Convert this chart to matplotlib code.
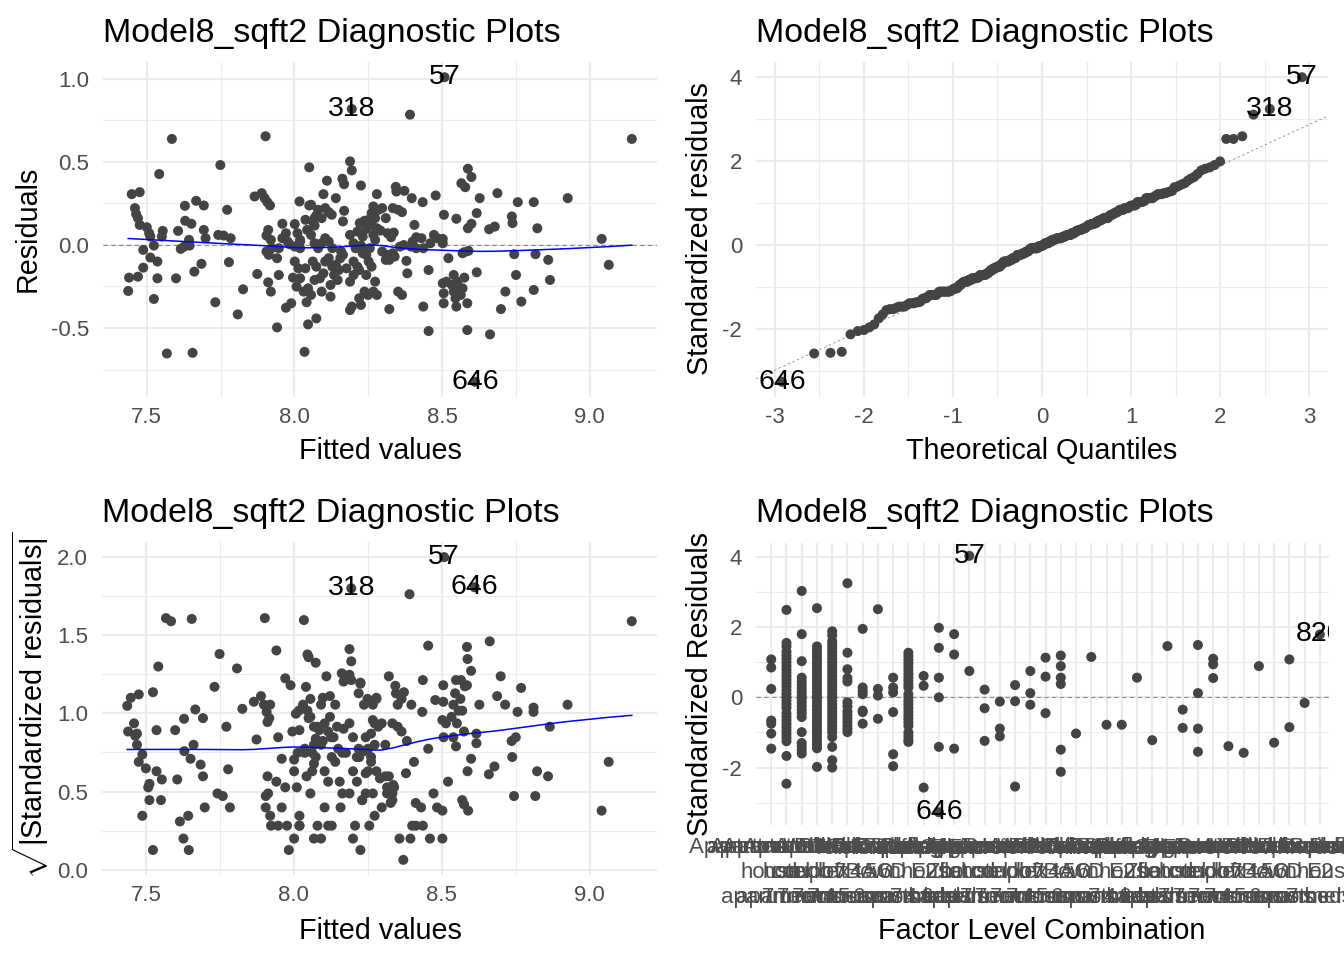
import numpy as np
import matplotlib
matplotlib.use("Agg")
import matplotlib.pyplot as plt
from matplotlib.ticker import MultipleLocator, FormatStrFormatter, FixedLocator, NullLocator
from statistics import NormalDist

plt.rcParams["font.family"] = ["Liberation Sans", "DejaVu Sans"]
plt.rcParams["mathtext.fontset"] = "custom"
plt.rcParams["mathtext.rm"] = "Liberation Sans"
plt.rcParams["axes.unicode_minus"] = False


# ─────────────────────────────────────────────
# Data
# ─────────────────────────────────────────────

TITLE = "Model8_sqft2 Diagnostic Plots"
SIGMA = 0.252   # residual standard error

FITTED = np.array([
    8.508, 8.194, 8.391, 7.585, 7.902, 9.142, 8.188, 7.749, 8.050, 8.194,
    8.587, 7.542, 8.599, 8.162, 8.168, 8.110, 8.565, 8.578, 8.225, 8.343,
    8.345, 8.372, 8.687, 8.279, 8.098, 8.478, 7.449, 7.476, 8.627, 8.925,
    8.140, 8.397, 8.434, 8.756, 8.810, 7.865, 7.889, 7.899, 7.908, 7.917,
    7.667, 7.693, 7.629, 7.460, 7.464, 7.470, 8.017, 8.050, 7.772, 8.080,
    8.104, 8.116, 8.126, 8.168, 8.164, 8.267, 8.297, 8.333, 8.351, 8.364,
    8.506, 8.548, 8.617, 8.599, 8.587, 8.659, 8.678, 8.736, 8.738, 8.822,
    9.040, 9.064, 7.630, 7.651, 7.476, 7.500, 7.508, 7.512, 7.554, 7.551,
    7.606, 7.693, 7.699, 7.643, 7.645, 7.742, 7.760, 7.784, 7.911, 7.905,
    7.920, 7.959, 7.971, 7.977, 8.001, 8.010, 8.019, 8.043, 8.056, 8.062,
    8.068, 8.074, 8.037, 8.221, 8.237, 8.251, 8.273, 8.261, 8.243, 8.279,
    8.291, 8.267, 8.273, 8.315, 8.327, 8.336, 8.406, 8.412, 8.430, 8.400,
    8.472, 8.484, 8.502, 8.460, 7.488, 7.512, 7.536, 7.524, 7.615, 7.627,
    7.440, 7.470, 7.488, 7.536, 7.599, 7.661, 7.685, 7.778, 7.437, 7.524,
    7.732, 7.808, 7.826, 7.874, 7.911, 7.920, 7.941, 7.947, 7.941, 7.905,
    7.913, 7.971, 7.989, 7.995, 8.007, 8.019, 8.031, 8.037, 8.046, 8.041,
    8.046, 8.074, 8.034, 7.568, 7.655, 8.068, 8.086, 8.098, 8.104, 8.116,
    8.122, 8.122, 8.134, 8.140, 8.146, 8.150, 8.155, 8.158, 8.164, 8.188,
    8.194, 8.219, 8.225, 8.237, 8.213, 8.219, 8.243, 8.251, 8.231, 8.225,
    8.243, 8.255, 8.249, 8.267, 8.273, 8.279, 8.315, 8.321, 8.333, 8.339,
    8.379, 8.382, 8.351, 8.364, 8.321, 8.436, 8.454, 8.454, 8.436, 8.502,
    8.505, 8.505, 8.514, 8.521, 8.533, 8.539, 8.545, 8.551, 8.557, 8.548,
    8.563, 8.569, 8.575, 8.575, 8.589, 8.585, 8.585, 8.617, 8.662, 8.699,
    8.714, 8.744, 8.750, 8.768, 8.810, 8.816, 8.859, 8.865, 8.611,
    7.983, 8.001, 8.019, 8.068, 8.080, 8.092, 8.104, 8.116, 8.128, 8.188,
    8.200, 8.207, 8.213, 8.231, 8.370, 8.297, 8.309, 8.357, 8.394, 8.412,
    8.062, 8.074, 8.128, 8.176, 8.200, 8.200, 8.261, 8.188, 8.092, 8.056,
    8.019, 7.959, 8.056, 8.068, 8.092, 8.261, 8.285, 8.309, 8.333, 8.502,
    8.569, 7.947, 7.923, 8.001, 8.013, 8.539,
])

RESID = np.array([
    1.008, 0.817, 0.783, 0.637, 0.653, 0.637, 0.502, 0.480, 0.466, 0.448,
    0.458, 0.426, 0.408, 0.398, 0.365, 0.386, 0.371, 0.347, 0.357, 0.349,
    0.321, 0.325, 0.311, 0.305, 0.305, 0.297, 0.305, 0.317, 0.281, 0.281,
    0.281, 0.281, 0.257, 0.257, 0.257, 0.291, 0.311, 0.281, 0.257, 0.237,
    0.265, 0.237, 0.235, 0.221, 0.185, 0.161, 0.261, 0.237, 0.211, 0.211,
    0.221, 0.197, 0.181, 0.205, 0.141, 0.231, 0.221, 0.221, 0.211, 0.197,
    0.181, 0.157, 0.191, 0.127, 0.100, 0.094, 0.110, 0.171, 0.131, 0.100,
    0.036, -0.120, 0.145, 0.127, 0.120, 0.106, 0.070, 0.050, 0.084, 0.050,
    0.084, 0.090, 0.040, 0.030, -0.004, 0.060, 0.056, 0.040, 0.090, 0.056,
    0.030, 0.127, 0.070, 0.020, 0.125, 0.070, 0.030, 0.090, 0.060, 0.141,
    0.116, 0.177, 0.151, 0.131, 0.145, 0.151, 0.161, 0.120, 0.096, 0.100,
    0.086, 0.060, 0.030, 0.070, 0.046, 0.074, 0.120, 0.046, 0.040, 0.020,
    0.060, 0.040, 0.036, 0.010, -0.030, -0.076, -0.100, -0.004, -0.024, -0.010,
    -0.197, -0.191, -0.137, -0.201, -0.201, -0.161, -0.114, -0.104, -0.277, -0.325,
    -0.345, -0.418, -0.267, -0.175, -0.225, -0.281, -0.496, -0.181, -0.080, -0.040,
    -0.060, -0.378, -0.351, -0.197, -0.251, -0.201, -0.281, -0.141, -0.261, -0.345,
    -0.478, -0.442, -0.643, -0.653, -0.649, -0.211, -0.201, -0.171, -0.100, -0.080,
    -0.241, -0.311, -0.181, -0.120, -0.211, -0.151, -0.080, -0.040, -0.060, -0.392,
    -0.371, -0.321, -0.361, -0.281, -0.131, -0.151, -0.181, -0.100, -0.050, -0.004,
    -0.060, -0.020, -0.301, -0.281, -0.221, -0.301, -0.060, -0.090, -0.050, -0.070,
    -0.096, -0.171, -0.281, -0.301, -0.386, -0.371, -0.151, -0.518, -0.020, -0.231,
    -0.291, -0.351, -0.221, -0.080, -0.241, -0.281, -0.321, -0.221, -0.261, -0.371,
    -0.301, -0.261, -0.197, -0.044, -0.036, -0.351, -0.512, -0.165, -0.538, -0.386,
    -0.281, -0.056, -0.181, -0.341, -0.271, -0.056, -0.090, -0.211, -0.823,
    0.004, -0.010, -0.020, 0.010, -0.020, 0.010, 0.040, 0.020, -0.020, 0.060,
    0.010, -0.020, 0.080, 0.050, -0.001, -0.040, -0.090, -0.010, -0.010, -0.020,
    -0.100, -0.131, -0.131, -0.141, -0.100, -0.181, -0.131, -0.221, -0.281, -0.301,
    0.020, 0.040, 0.241, 0.161, 0.161, 0.191, 0.211, 0.161, -0.060, 0.010,
    -0.050, -0.020, -0.020, -0.100, -0.141, -0.181,
])

# labelled observations (index into FITTED / RESID)
OUTLIER_IDX = [0, 1, 238]
OUTLIER_NAMES = ["57", "318", "646"]

# standardized residuals grouped by factor level combination
LEVEL_STD = [
    [1.08, 0.85, 0.24, -0.66, -0.75, -1.03, -1.46],
    [2.49, 1.55, 1.45, 1.3, 1.2, 1.1, 1.0, 0.9, 0.8, 0.7, 0.6, 0.5, 0.4, 0.3, 0.2,
     0.1, 0.0, -0.1, -0.2, -0.3, -0.45, -0.55, -0.65, -0.75, -0.85, -0.95, -1.05,
     -1.15, -1.25, -1.67, -2.46],
    [3.03, 1.8, 1.03, 0.56, 0.45, 0.35, 0.25, 0.15, 0.05, -0.05, -0.15, -0.25,
     -0.35, -0.45, -0.56, -0.99, -1.3, -1.4, -1.5, -1.6],
    [2.54, 1.45, 1.35, 1.25, 1.15, 1.05, 0.95, 0.85, 0.75, 0.65, 0.55, 0.45, 0.35,
     0.25, 0.15, 0.05, -0.05, -0.15, -0.25, -0.35, -0.45, -0.55, -0.65, -0.75,
     -0.85, -0.95, -1.05, -1.15, -1.25, -1.35, -1.45, -1.98],
    [1.88, 1.76, 1.6, 1.5, 1.4, 1.3, 1.2, 1.1, 1.0, 0.9, 0.8, 0.7, 0.6, 0.5, 0.4,
     0.3, 0.2, 0.1, 0.0, -0.1, -0.2, -0.3, -0.4, -0.5, -0.6, -0.7, -0.8, -0.9,
     -1.0, -1.13, -1.41, -1.79, -2.0],
    [3.25, 1.27, 0.8, 0.55, 0.45, -0.14, -0.25, -0.4, -0.5, -0.6, -0.7, -0.8,
     -0.9, -0.99],
    [1.95, 0.28, 0.18, 0.09, -0.38, -0.42, -0.75],
    [2.51, 0.24, 0.05, -0.61],
    [0.56, 0.28, 0.14, -0.42, -1.62, -1.96],
    [1.27, 1.17, 1.07, 0.97, 0.87, 0.77, 0.67, 0.57, 0.47, 0.37, 0.28, 0.09,
     -0.01, -0.11, -0.21, -0.31, -0.41, -0.51, -0.61, -0.71, -0.81, -1.0, -1.1,
     -1.2, -1.27],
    [0.61, 0.33, -2.57],
    [1.98, 1.41, 0.56, 0.0, -1.41, -3.27],
    [1.8, 1.22, -1.46],
    [4.03, 0.75],
    [0.22, -0.31, -1.24],
    [-0.12, -0.89, -1.11],
    [0.35, -0.11, -2.54],
    [0.75, 0.12, -0.21],
    [1.13, 0.59, -0.45],
    [1.19, 0.89, 0.56, 0.38, -1.49, -2.12],
    [-1.03],
    [1.15],
    [-0.78],
    [-0.78],
    [0.56],
    [-1.22],
    [1.46],
    [-0.35, -0.87],
    [1.49, 0.12, -0.89, -1.55],
    [1.1, 0.94, 0.55],
    [-1.39],
    [-1.58],
    [0.89],
    [-1.29],
    [1.08, -0.85],
    [-0.16],
    [1.79],
]

LEVEL_OUTLIERS = [13, 11, 36]
LEVEL_OUTLIER_NAMES = ["57", "646", "820"]

ROW_A = ["Apartment Block", "apartment block", "Apartment Walkup", "Apartment Elevator",
         "Apartment Duplex", "Apartment Loft", "Walkup Building", "Elevator Building",
         "Townhouse Row", "Townhouse End", "Duplex Upper", "Duplex Lower",
         "Loft Conversion", "Cottage Detached"]
ROW_B = ["house", "hotel", "condo", "duplex", "loft", "7B", "4A", "5C", "6D",
         "townhouse", "E2", "Zb", "flat"]
ROW_C = ["apartment", "apartment", "7 rooms", "7 rooms", "7 rooms", "7 rooms",
         "4 rooms", "5 rooms", "6 rooms", "apartment", "7 beds", "4 beds", "6 beds"]
FACTOR_LABELS = [f"{ROW_A[i % len(ROW_A)]}\n{ROW_B[i % len(ROW_B)]}\n{ROW_C[i % len(ROW_C)]}"
                 for i in range(len(LEVEL_STD))]


# ─────────────────────────────────────────────
# Helpers
# ─────────────────────────────────────────────

W, H = 1344, 960
POINT_COL = "#444444"
GRID_COL = "#EBEBEB"
TICK_COL = "#4D4D4D"


def lowess(x, y, frac=2 / 3, iters=3):
    order = np.argsort(x, kind="stable")
    xs, ys = x[order], y[order]
    n = len(xs)
    r = int(np.ceil(frac * n))
    dist = np.abs(xs[:, None] - xs[None, :])
    h = np.sort(dist, axis=1)[:, r - 1]
    w = np.clip(dist / h[:, None], 0, 1)
    w = (1 - w ** 3) ** 3
    delta = np.ones(n)
    fit = np.zeros(n)
    for _ in range(iters + 1):
        for i in range(n):
            wi = w[i] * delta
            sw, sx, sy = wi.sum(), (wi * xs).sum(), (wi * ys).sum()
            sxx, sxy = (wi * xs * xs).sum(), (wi * xs * ys).sum()
            den = sw * sxx - sx * sx
            if den > 1e-12:
                b = (sw * sxy - sx * sy) / den
                fit[i] = (sy - b * sx) / sw + b * xs[i]
            else:
                fit[i] = sy / sw
        res = ys - fit
        s = np.median(np.abs(res))
        delta = np.clip(res / (6 * s), -1, 1)
        delta = (1 - delta ** 2) ** 2
    return xs, fit


def panel(fig, left, top, right, bottom):
    return fig.add_axes([left / W, 1 - bottom / H, (right - left) / W, (bottom - top) / H])


def style(ax, xpad=7.5, ypad=10):
    for s in ax.spines.values():
        s.set_visible(False)
    ax.set_axisbelow(True)
    ax.grid(which="major", color=GRID_COL, lw=1.45)
    ax.grid(which="minor", color=GRID_COL, lw=0.75)
    ax.tick_params(which="both", length=0, labelsize=16, labelcolor=TICK_COL)
    ax.tick_params(axis="x", pad=xpad)
    ax.tick_params(axis="y", pad=ypad)


def ftext(fig, x, y, s, **kw):
    fig.text(x / W, 1 - y / H, s, **kw)


# ─────────────────────────────────────────────
# Derived series
# ─────────────────────────────────────────────

std_resid = RESID / SIGMA
sqrt_std = np.sqrt(np.abs(std_resid))

n = len(std_resid)
order = np.argsort(std_resid, kind="stable")
theo = np.array([NormalDist().inv_cdf((i + 0.5) / n) for i in range(n)])
sample = std_resid[order]
q1y, q3y = np.quantile(std_resid, [0.25, 0.75])
q1x, q3x = NormalDist().inv_cdf(0.25), NormalDist().inv_cdf(0.75)
qq_slope = (q3y - q1y) / (q3x - q1x)
qq_int = q1y - qq_slope * q1x
rank = np.empty(n, dtype=int)
rank[order] = np.arange(n)

# ─────────────────────────────────────────────
# Figure
# ─────────────────────────────────────────────

fig = plt.figure(figsize=(W / 100, H / 100), dpi=100)

label_kw = dict(fontsize=20.5, ha="center", va="center", color="black", zorder=5)

# 1. Residuals vs Fitted
ax1 = panel(fig, 103, 62, 657, 397)
style(ax1)
ax1.scatter(FITTED, RESID, s=52, color=POINT_COL, edgecolors="none", zorder=3)
sx, sy = lowess(FITTED, RESID)
ax1.plot(sx, sy, color="#0000FF", lw=1.1, zorder=4)
ax1.axhline(0, color="#8C8C8C", lw=0.8, ls=(0, (4, 3)), zorder=2)
for i, name in zip(OUTLIER_IDX, OUTLIER_NAMES):
    ax1.text(FITTED[i], RESID[i], name, clip_on=True, **label_kw)
ax1.xaxis.set_major_locator(MultipleLocator(0.5))
ax1.xaxis.set_minor_locator(MultipleLocator(0.25))
ax1.yaxis.set_major_locator(MultipleLocator(0.5))
ax1.yaxis.set_minor_locator(MultipleLocator(0.25))
ax1.xaxis.set_major_formatter(FormatStrFormatter("%.1f"))
ax1.yaxis.set_major_formatter(FormatStrFormatter("%.1f"))

# 2. Normal Q-Q
ax2 = panel(fig, 756, 62, 1328, 397)
style(ax2)
ax2.scatter(theo, sample, s=52, color=POINT_COL, edgecolors="none", zorder=3)
ax2.axline((0, qq_int), slope=qq_slope, color="#8C8C8C", lw=0.6, ls=(0, (3, 3)), zorder=2)
for i, name in zip(OUTLIER_IDX, OUTLIER_NAMES):
    ax2.text(theo[rank[i]], std_resid[i], name, clip_on=True, **label_kw)
ax2.xaxis.set_major_locator(MultipleLocator(1))
ax2.xaxis.set_minor_locator(MultipleLocator(0.5))
ax2.yaxis.set_major_locator(MultipleLocator(2))
ax2.yaxis.set_minor_locator(MultipleLocator(1))

# 3. Scale-Location
ax3 = panel(fig, 102, 542, 657, 875)
style(ax3)
ax3.scatter(FITTED, sqrt_std, s=52, color=POINT_COL, edgecolors="none", zorder=3)
sx, sy = lowess(FITTED, sqrt_std)
ax3.plot(sx, sy, color="#0000FF", lw=1.1, zorder=4)
for i, name in zip(OUTLIER_IDX, OUTLIER_NAMES):
    ax3.text(FITTED[i], sqrt_std[i], name, clip_on=True, **label_kw)
ax3.xaxis.set_major_locator(MultipleLocator(0.5))
ax3.xaxis.set_minor_locator(MultipleLocator(0.25))
ax3.yaxis.set_major_locator(MultipleLocator(0.5))
ax3.yaxis.set_minor_locator(MultipleLocator(0.25))
ax3.xaxis.set_major_formatter(FormatStrFormatter("%.1f"))
ax3.yaxis.set_major_formatter(FormatStrFormatter("%.1f"))

# 4. Residuals vs Factor Levels
ax4 = panel(fig, 756, 543, 1329, 825)
style(ax4, xpad=9)
lv_x = np.concatenate([[k] * len(v) for k, v in enumerate(LEVEL_STD)])
lv_y = np.concatenate([v for v in LEVEL_STD])
ax4.scatter(lv_x, lv_y, s=52, color=POINT_COL, edgecolors="none", zorder=3)
ax4.axhline(0, color="#8C8C8C", lw=0.8, ls=(0, (4, 3)), zorder=2)
for k, name in zip(LEVEL_OUTLIERS, LEVEL_OUTLIER_NAMES):
    vals = np.array(LEVEL_STD[k])
    v = vals[np.argmax(np.abs(vals))]
    ax4.text(k, v, name, clip_on=True, **label_kw)
ax4.set_xlim(-1.0, len(LEVEL_STD) - 0.4)
ax4.xaxis.set_major_locator(FixedLocator(range(len(LEVEL_STD))))
ax4.xaxis.set_minor_locator(NullLocator())
ax4.set_xticklabels(FACTOR_LABELS, linespacing=1.22)
ax4.yaxis.set_major_locator(MultipleLocator(2))
ax4.yaxis.set_minor_locator(MultipleLocator(1))

# titles and axis titles
for x, y in [(103, 42), (756, 42), (102, 522), (756, 522)]:
    ftext(fig, x, y, TITLE, fontsize=24.5, ha="left", va="baseline")

at = dict(fontsize=20.7, ha="center", va="center")
ftext(fig, 380, 451, "Fitted values", **at)
ftext(fig, 1042, 451, "Theoretical Quantiles", **at)
ftext(fig, 380, 931, "Fitted values", **at)
ftext(fig, 1042, 931, "Factor Level Combination", **at)
ftext(fig, 28, 229, "Residuals", rotation=90, **at)
ftext(fig, 700, 229, "Standardized residuals", rotation=90, **at)
ftext(fig, 30, 705, r"$\sqrt{|\mathrm{Standardized\ residuals}|}$", rotation=90, **at)
ftext(fig, 700, 684, "Standardized Residuals", rotation=90, **at)

fig.savefig("out.png", dpi=100)
